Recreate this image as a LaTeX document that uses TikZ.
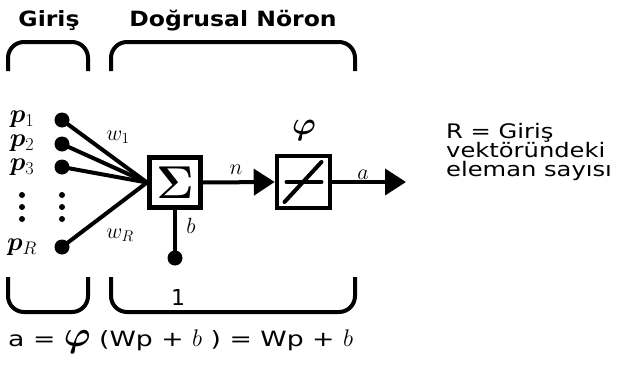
\RequirePackage{fix-cm}
\documentclass[tikz,border=0pt]{standalone}
\usepackage{fontspec}
\usepackage{bm}
\setmainfont{DejaVu Sans}
\newfontfamily\hdrfont[FakeStretch=1.12]{DejaVu Sans}
\newfontfamily\txtfont[FakeStretch=1.21]{DejaVu Sans}
\newfontfamily\frmfont[FakeStretch=1.27]{DejaVu Sans}
\usetikzlibrary{arrows.meta}
\begin{document}
\begin{tikzpicture}[x=1pt,y=-1pt,
  br/.style={line width=4pt, rounded corners=16pt},
  dotn/.style={circle,fill,inner sep=0pt,minimum size=15pt},
  sdot/.style={circle,fill,inner sep=0pt,minimum size=6pt},
  wire/.style={line width=4pt},
  blk/.style={draw,line width=5pt,inner sep=0pt,minimum width=51pt,minimum height=50pt},
  arr/.style={wire,-{Triangle[length=21pt,width=26pt]}},
  var/.style={inner sep=0pt,font=\fontsize{26}{26}\selectfont},
  wlab/.style={inner sep=0pt,font=\fontsize{22}{22}\selectfont},
  hdr/.style={anchor=base,inner sep=0pt,font=\hdrfont\bfseries\fontsize{21}{21}\selectfont},
  rtxt/.style={anchor=base west,inner sep=0pt,font=\txtfont\fontsize{20}{20}\selectfont}]
\useasboundingbox (0,0) rectangle (618,364);

% headers
\node[hdr] (hg) at (49,27) {Giriş};
\node[hdr] (hd) at (233,27) {Doğrusal Nöron};

% brackets
\draw[br] (8,71) -- (8,42) -- (88,42) -- (88,71);
\draw[br] (111,71) -- (111,42) -- (355,42) -- (355,71);
\draw[br] (8,277) -- (8,312) -- (88,312) -- (88,277);
\draw[br] (111,277) -- (111,312) -- (355,312) -- (355,277);

% input labels
\node[var] (p1) at (22,119) {$\bm{p}_1$};
\node[var] (p2) at (22,143) {$\bm{p}_2$};
\node[var] (p3) at (22,167) {$\bm{p}_3$};
\node[var] (pR) at (22,247) {$\bm{p}_R$};
\node[sdot] (l1) at (22,195) {};
\node[sdot] (l2) at (22,207) {};
\node[sdot] (l3) at (22,219) {};

% input dots
\node[dotn] (i1) at (62,120) {};
\node[dotn] (i2) at (62,144) {};
\node[dotn] (i3) at (62,167) {};
\node[dotn] (iR) at (62,247) {};
\node[sdot] (d1) at (62,195) {};
\node[sdot] (d2) at (62,207) {};
\node[sdot] (d3) at (62,219) {};

% summing block
\node[blk] (sum) at (175,182.5) {\fontsize{46}{46}\selectfont$\bm{\Sigma}$};
\draw[wire] (i1.center) -- (sum.west);
\draw[wire] (i2.center) -- (sum.west);
\draw[wire] (i3.center) -- (sum.west);
\draw[wire] (iR.center) -- (sum.west);
\node[wlab] (w1) at (118,137) {$w_1$};
\node[wlab] (wR) at (120,235) {$w_R$};

% bias
\node[dotn] (bd) at (175,258) {};
\draw[wire] (sum.south) -- (bd.center);
\node[wlab] (bl) at (191,226) {$b$};
\node[wlab] (one) at (178,297) {1};

% transfer block
\node[blk, line width=4.5pt, minimum width=53pt, minimum height=52pt] (phi) at (303.5,182) {};
\draw[wire, line cap=round] ([xshift=-17pt]phi.center) -- ([xshift=18pt]phi.center);
\draw[wire, line cap=round] ([shift={(-19,20)}]phi.center) -- ([shift={(18,-20)}]phi.center);
\node[inner sep=0pt,font=\fontsize{32}{32}\selectfont] (phil) at (304,130) {$\bm{\varphi}$};

\draw[arr] (sum.east) -- (phi.west);
\node[wlab] (nl) at (236,170) {$n$};
\coordinate (out) at (406,182);
\draw[arr] (phi.east) -- (out);
\node[wlab] (al) at (363,175) {$a$};

% right text
\node[rtxt] (r1) at (446,138) {R = Giriş};
\node[rtxt] (r2) at (446,157) {vektöründeki};
\node[rtxt] (r3) at (446,176) {eleman sayısı};

% formula
\node[anchor=base west,inner sep=0pt,font=\frmfont\fontsize{21}{21}\selectfont] (f) at (8,346)
  {a = {\fontsize{36}{36}\selectfont$\bm{\varphi}$} (Wp + {\fontsize{24}{24}\selectfont$b$} ) = Wp + {\fontsize{24}{24}\selectfont$b$}};
\end{tikzpicture}
\end{document}
